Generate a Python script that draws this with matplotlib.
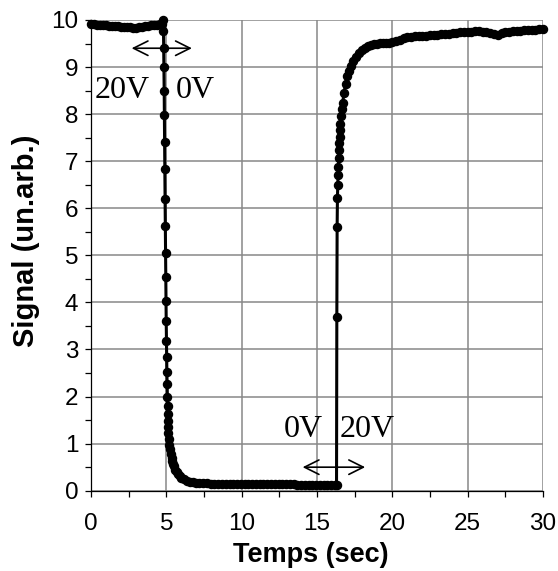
import matplotlib
matplotlib.use("Agg")
import matplotlib.pyplot as plt
from matplotlib.ticker import MultipleLocator

# Signal recorded while switching the applied voltage 20V -> 0V -> 20V
t_hold_on = [0.0, 0.2, 0.4, 0.6, 0.8, 1.0, 1.2, 1.4, 1.6, 1.8, 2.0, 2.2, 2.4,
             2.6, 2.8, 3.0, 3.2, 3.4, 3.6, 3.8, 4.0, 4.2, 4.4, 4.6, 4.7]
s_hold_on = [9.91, 9.91, 9.90, 9.90, 9.89, 9.89, 9.88, 9.88, 9.87, 9.87, 9.86,
             9.86, 9.85, 9.85, 9.84, 9.84, 9.85, 9.86, 9.87, 9.88, 9.89, 9.90,
             9.90, 9.91, 9.92]

t_fall = [4.80, 4.815, 4.83, 4.845, 4.86, 4.875, 4.89, 4.905, 4.92, 4.935,
          4.95, 4.965, 4.98, 4.995, 5.01, 5.025, 5.04, 5.055, 5.07, 5.085,
          5.10, 5.115, 5.13, 5.145, 5.16]
s_fall = [10.00, 9.77, 9.40, 9.00, 8.50, 7.98, 7.41, 6.83, 6.19, 5.62, 5.04,
          4.54, 4.02, 3.60, 3.18, 2.84, 2.52, 2.26, 2.00, 1.81, 1.63, 1.49,
          1.35, 1.22, 1.10]

t_tail = [5.20, 5.25, 5.30, 5.35, 5.40, 5.45, 5.50, 5.60, 5.70, 5.80, 5.90,
          6.00, 6.20, 6.40, 6.60, 6.80, 7.00, 7.20]
s_tail = [0.98, 0.88, 0.78, 0.70, 0.63, 0.57, 0.52, 0.45, 0.39, 0.35, 0.31,
          0.28, 0.24, 0.21, 0.19, 0.18, 0.17, 0.165]

t_hold_off = [7.45, 7.7, 7.95, 8.2, 8.45, 8.7, 8.95, 9.2, 9.45, 9.7, 9.95,
              10.2, 10.45, 10.7, 10.95, 11.2, 11.45, 11.7, 11.95, 12.2, 12.45,
              12.7, 12.95, 13.2, 13.45, 13.7, 13.95, 14.2, 14.45, 14.7, 14.95,
              15.2, 15.45, 15.7, 15.95, 16.2]
s_hold_off = [0.16, 0.16, 0.15, 0.15, 0.15, 0.15, 0.15, 0.15, 0.15, 0.14, 0.14,
              0.14, 0.14, 0.14, 0.14, 0.14, 0.14, 0.14, 0.14, 0.14, 0.14, 0.14,
              0.14, 0.14, 0.14, 0.13, 0.13, 0.13, 0.13, 0.13, 0.13, 0.13, 0.13,
              0.13, 0.13, 0.13]

t_rise = [16.30, 16.32, 16.34, 16.36, 16.38, 16.40, 16.42, 16.44, 16.46,
          16.48, 16.50, 16.52, 16.55, 16.60, 16.65, 16.70, 16.80, 16.90,
          17.00, 17.10, 17.25, 17.40, 17.60, 17.80, 18.00, 18.20, 18.40,
          18.60, 18.80, 19.00, 19.20, 19.40, 19.60, 19.80, 20.00]
s_rise = [0.13, 3.69, 5.60, 6.21, 6.49, 6.70, 6.88, 7.06, 7.23, 7.38, 7.52,
          7.66, 7.80, 7.95, 8.10, 8.23, 8.45, 8.65, 8.80, 8.92, 9.02, 9.12,
          9.22, 9.30, 9.36, 9.40, 9.44, 9.47, 9.49, 9.50, 9.51, 9.52, 9.52,
          9.52, 9.53]

t_hold_back = [20.25, 20.5, 20.75, 21.0, 21.25, 21.5, 21.75, 22.0, 22.25, 22.5,
               22.75, 23.0, 23.25, 23.5, 23.75, 24.0, 24.25, 24.5, 24.75, 25.0,
               25.25, 25.5, 25.75, 26.0, 26.25, 26.5, 26.75, 27.0, 27.25, 27.5,
               27.75, 28.0, 28.25, 28.5, 28.75, 29.0, 29.25, 29.5, 29.75, 30.0]
s_hold_back = [9.55, 9.58, 9.61, 9.63, 9.64, 9.65, 9.66, 9.67, 9.67, 9.68,
               9.68, 9.69, 9.70, 9.70, 9.71, 9.72, 9.73, 9.74, 9.75, 9.75,
               9.75, 9.76, 9.76, 9.75, 9.74, 9.72, 9.70, 9.69, 9.72, 9.74,
               9.75, 9.76, 9.77, 9.77, 9.78, 9.78, 9.79, 9.79, 9.80, 9.81]

time = t_hold_on + t_fall + t_tail + t_hold_off + t_rise + t_hold_back
signal = s_hold_on + s_fall + s_tail + s_hold_off + s_rise + s_hold_back

x_ticks = [0, 5, 10, 15, 20, 25, 30]
y_ticks = [0, 1, 2, 3, 4, 5, 6, 7, 8, 9, 10]

fig = plt.figure(figsize=(5.58, 5.71), dpi=100)
ax = fig.add_axes([0.163, 0.1406, 0.810, 0.8244])

ax.plot(time, signal, color="black", lw=2.2, marker="o", ms=5.8,
        mfc="black", mec="black", mew=1.0, clip_on=False, zorder=3)

ax.set_xlim(0, 30)
ax.set_ylim(0, 10)
ax.set_xticks(x_ticks)
ax.set_yticks(y_ticks)
ax.xaxis.set_minor_locator(MultipleLocator(2.5))
ax.yaxis.set_minor_locator(MultipleLocator(0.5))
ax.grid(True, which="major", color="#888888", lw=1.1)
ax.set_axisbelow(True)

for side in ("top", "right"):
    ax.spines[side].set_visible(False)
for side in ("left", "bottom"):
    ax.spines[side].set_color("black")
    ax.spines[side].set_linewidth(0.9)

ax.tick_params(which="both", direction="out", length=4, width=0.9,
               color="black")
ax.tick_params(axis="both", which="major", labelsize=17.5,
               labelfontfamily="Liberation Sans")
ax.tick_params(axis="x", which="major", pad=12)
ax.tick_params(axis="y", which="major", pad=5)

ax.set_xlabel("Temps (sec)", fontsize=19.5, fontweight="bold",
              family="Liberation Sans")
ax.xaxis.set_label_coords(0.487, -0.108)
ax.set_ylabel("Signal (un.arb.)", fontsize=21, fontweight="bold",
              family="Liberation Sans")
ax.yaxis.set_label_coords(-0.112, 0.53)

# Voltage switching annotations
arrow = dict(arrowstyle="<->", color="black", lw=1.2, mutation_scale=26,
             shrinkA=0, shrinkB=0)
ax.annotate("", xy=(2.7, 9.4), xytext=(6.7, 9.4), arrowprops=arrow)
ax.annotate("", xy=(14.05, 0.5), xytext=(18.2, 0.5), arrowprops=arrow)

vfont = dict(family="Liberation Serif", fontsize=23, ha="center",
             va="center")
ax.text(2.1, 8.5, "20V", **vfont)
ax.text(6.9, 8.5, "0V", **vfont)
ax.text(14.1, 1.3, "0V", **vfont)
ax.text(18.35, 1.3, "20V", **vfont)

fig.savefig("out.png", dpi=100)
